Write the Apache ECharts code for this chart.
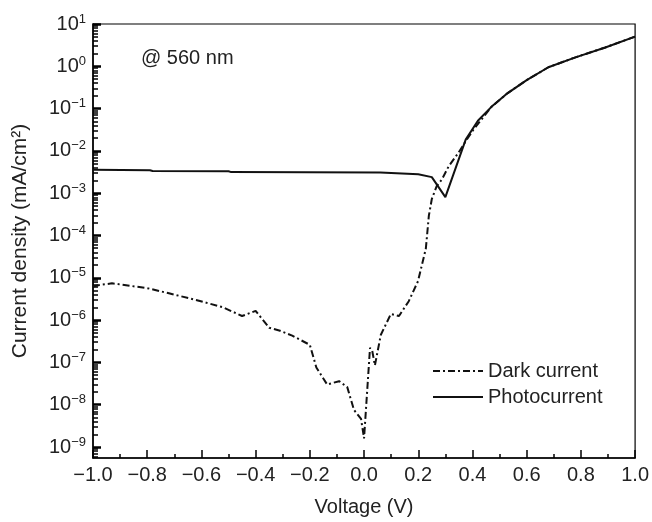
<!DOCTYPE html>
<html>
<head>
<meta charset="utf-8">
<script src="https://cdn.jsdelivr.net/npm/echarts@6/dist/echarts.min.js"></script>
<style>
html,body{margin:0;padding:0;background:#fff;}
#c{width:652px;height:522px;}
</style>
</head>
<body>
<div id="c"></div>
<script>
// Voltage (V) and current density (mA/cm^2)
const darkV = [-1.0, -0.98, -0.93, -0.80, -0.72, -0.62, -0.52, -0.45, -0.40, -0.35, -0.31, -0.265, -0.20, -0.176, -0.136, -0.092, -0.062, -0.037, -0.011, 0.0, 0.022, 0.03, 0.04, 0.062, 0.099, 0.129, 0.165, 0.199, 0.228, 0.239, 0.25, 0.268, 0.287, 0.312, 0.349, 0.379, 0.404, 0.47, 0.53, 0.60, 0.68, 0.78, 0.89, 1.0];
const darkJ = [6.2e-6, 6.7e-6, 7.4e-6, 5.7e-6, 4.3e-6, 3.0e-6, 2.0e-6, 1.25e-6, 1.65e-6, 6.6e-7, 5.6e-7, 4.3e-7, 2.6e-7, 7.6e-8, 3.0e-8, 3.6e-8, 2.6e-8, 7.5e-9, 4.6e-9, 1.6e-9, 2.2e-7, 1.9e-7, 8.5e-8, 4.5e-7, 1.4e-6, 1.25e-6, 2.8e-6, 8.3e-6, 4.9e-5, 2.9e-4, 7.3e-4, 1.47e-3, 2.1e-3, 4.3e-3, 9.2e-3, 1.85e-2, 3.2e-2, 0.11, 0.233, 0.47, 0.95, 1.63, 2.79, 5.04];
const photoV = [-1.0, -0.79, -0.78, -0.50, -0.49, 0.06, 0.20, 0.25, 0.30, 0.375, 0.42, 0.47, 0.53, 0.60, 0.68, 0.78, 0.89, 1.0];
const photoJ = [3.57e-3, 3.47e-3, 3.35e-3, 3.3e-3, 3.15e-3, 3.1e-3, 2.8e-3, 2.4e-3, 8.1e-4, 1.85e-2, 5.15e-2, 0.11, 0.233, 0.47, 0.95, 1.63, 2.79, 5.04];
const seriesNames = ['Dark current', 'Photocurrent'];
const xTicks = [-1.0, -0.8, -0.6, -0.4, -0.2, 0.0, 0.2, 0.4, 0.6, 0.8, 1.0];
const yDecades = [-9, -8, -7, -6, -5, -4, -3, -2, -1, 0, 1];   // tick labels 10^n
const yLogMin = -9.26, yLogMax = 1;
const annotation = '@ 560 nm';

const FONT = 'Liberation Sans, Arial, sans-serif';
const chart = echarts.init(document.getElementById('c'), null, {renderer: 'canvas'});
const lg = v => Math.log10(v);
const zip = (a, b) => a.map((v, i) => [v, lg(b[i])]);
const minorVals = [];
yDecades.forEach(n => { for (let k = 2; k <= 9; k++) { const v = n - 1 + lg(k); if (v > yLogMin && v < yLogMax) minorVals.push(v); } });
const sup = n => String(n).replace('-', '\u2212');

chart.setOption({
  animation: false,
  backgroundColor: '#fff',
  grid: {left: 93, right: 15, top: 24, bottom: 60, show: true, borderColor: '#000', borderWidth: 1.2, backgroundColor: 'transparent'},
  xAxis: {
    type: 'value', min: -1.0, max: 1.0, interval: 0.2,
    name: 'Voltage (V)', nameLocation: 'middle', nameGap: 39,
    nameTextStyle: {fontFamily: FONT, fontSize: 20, color: '#222'},
    axisLine: {onZero: false, lineStyle: {color: '#000', width: 1.5}},
    axisTick: {inside: true, length: 8, customValues: xTicks, lineStyle: {color: '#000', width: 1.5}},
    minorTick: {show: true, splitNumber: 2, length: 4, lineStyle: {color: '#000', width: 1.5}},
    splitLine: {show: false},
    axisLabel: {margin: 7, fontFamily: FONT, fontSize: 20, color: '#222', customValues: xTicks,
      formatter: v => v.toFixed(1).replace('-', '\u2212')}
  },
  yAxis: [{
    type: 'value', min: yLogMin, max: yLogMax,
    name: 'Current density (mA/cm\u00B2)', nameLocation: 'middle', nameGap: 62,
    nameTextStyle: {fontFamily: FONT, fontSize: 21, color: '#222'},
    axisLine: {onZero: false, lineStyle: {color: '#000', width: 1.5}},
    axisTick: {inside: true, length: 8, customValues: yDecades, lineStyle: {color: '#000', width: 2.5}},
    splitLine: {show: false},
    axisLabel: {margin: 7, customValues: yDecades,
      formatter: v => '{b|10}{s|' + sup(Math.round(v)) + '}',
      rich: {
        b: {fontFamily: FONT, fontSize: 20, color: '#222', lineHeight: 22},
        s: {fontFamily: FONT, fontSize: 13, color: '#222', padding: [0, 0, 10, 0]}
      }
    }
  }, {
    type: 'value', min: yLogMin, max: yLogMax, position: 'left',
    axisLine: {show: false, onZero: false},
    axisTick: {inside: true, length: 5, customValues: minorVals, lineStyle: {color: '#000', width: 1.5}},
    axisLabel: {show: false},
    splitLine: {show: false}
  }],
  legend: {
    orient: 'vertical', left: 427, top: 355, itemWidth: 50, itemHeight: 14, itemGap: 4,
    textStyle: {fontFamily: FONT, fontSize: 20, color: '#222', lineHeight: 22},
    itemStyle: {opacity: 0},
    data: seriesNames
  },
  graphic: [{
    type: 'text', left: 141, top: 48,
    style: {text: annotation, font: '20px ' + FONT, fill: '#222'}
  }],
  series: [
    {name: seriesNames[0], type: 'line', symbol: 'none', data: zip(darkV, darkJ),
      lineStyle: {color: '#111', width: 2, type: [7, 3, 2, 3]}, itemStyle: {color: '#111'}, z: 3},
    {name: seriesNames[1], type: 'line', symbol: 'none', data: zip(photoV, photoJ),
      lineStyle: {color: '#111', width: 2}, itemStyle: {color: '#111'}, z: 2}
  ]
});
</script>
</body>
</html>
